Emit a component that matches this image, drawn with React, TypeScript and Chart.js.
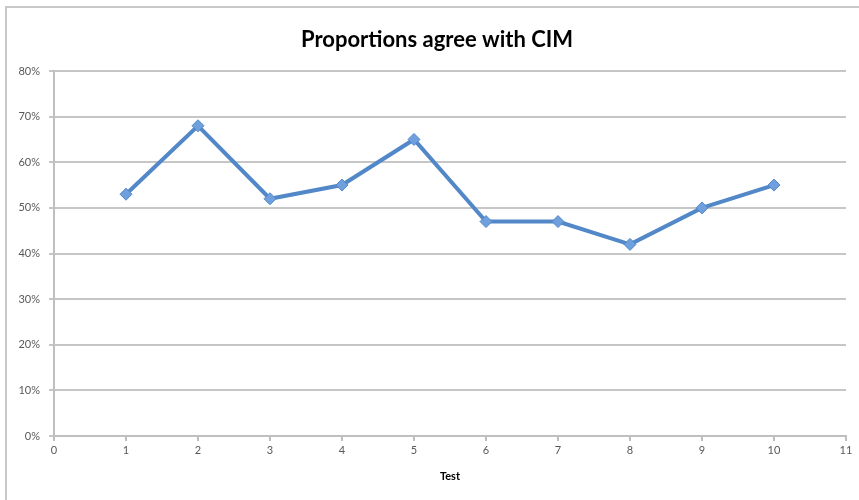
import React, { useEffect, useRef } from "react";
import { Chart, registerables } from "chart.js";

Chart.register(...registerables);

const tests = [1, 2, 3, 4, 5, 6, 7, 8, 9, 10];
const agreeProportion = [0.53, 0.68, 0.52, 0.55, 0.65, 0.47, 0.47, 0.42, 0.5, 0.55];
const chartTitle = "Proportions agree with CIM";
const xAxisTitle = "Test";

const FONT = "Lato, 'Open Sans', sans-serif";

const frameTitle = {
  id: "frameTitle",
  afterDraw(chart: any) {
    const ctx = chart.ctx;
    ctx.save();
    ctx.font = `bold 22px ${FONT}`;
    ctx.fillStyle = "#000";
    ctx.textAlign = "center";
    ctx.textBaseline = "middle";
    ctx.fillText(chartTitle, 437, 40);
    ctx.restore();
  },
};

export default function App() {
  const ref = useRef<HTMLCanvasElement>(null);
  useEffect(() => {
    if (!ref.current) return;
    const chart = new Chart(ref.current, {
      type: "line",
      data: {
        datasets: [
          {
            data: tests.map((t, i) => ({ x: t, y: agreeProportion[i] })),
            borderColor: "#5288c8",
            borderWidth: 4,
            pointStyle: "rectRot",
            pointRadius: 6,
            pointBackgroundColor: "#6f9fdc",
            pointBorderColor: "#5288c8",
            pointBorderWidth: 1,
            tension: 0,
          },
        ],
      },
      plugins: [frameTitle],
      options: {
        animation: false,
        responsive: false,
        layout: { padding: { left: 0, right: 13, top: 71, bottom: 17 } },
        plugins: {
          legend: { display: false },
          tooltip: { enabled: false },
          title: { display: false },
        },
        scales: {
          x: {
            type: "linear",
            min: 0,
            max: 11,
            ticks: {
              stepSize: 1,
              color: "#595959",
              font: { family: FONT, size: 11 },
              padding: 3,
              maxRotation: 0,
            },
            grid: {
              drawOnChartArea: false,
              drawTicks: true,
              tickLength: 5,
              color: "#bfbfbf",
              lineWidth: 2,
            },
            border: { display: true, color: "#bfbfbf", width: 2 },
            title: {
              display: true,
              text: xAxisTitle,
              color: "#000",
              font: { family: FONT, size: 11, weight: "bold" },
              padding: { top: 0, bottom: 0 },
            },
            afterFit: (s: any) => {
              s.height = 47;
            },
          },
          y: {
            min: 0,
            max: 0.8,
            ticks: {
              stepSize: 0.1,
              color: "#595959",
              font: { family: FONT, size: 11 },
              padding: 9,
              callback: (v: any) => Math.round(Number(v) * 100) + "%",
            },
            grid: {
              drawTicks: true,
              tickLength: 5,
              color: "#c6c6c6",
              lineWidth: 2,
            },
            border: { display: true, color: "#bfbfbf", width: 2 },
            afterFit: (s: any) => {
              s.width = 54;
            },
          },
        },
      },
    });
    return () => chart.destroy();
  }, []);
  return (
    <div style={{ position: "fixed", left: 0, top: 0, width: 859, height: 500, background: "#fff", overflow: "hidden" }}>
      <div
        style={{
          position: "absolute",
          left: 5,
          top: 6,
          width: 900,
          height: 520,
          borderLeft: "2px solid #c8c8c8",
          borderTop: "2px solid #c8c8c8",
          boxSizing: "border-box",
        }}
      />
      <canvas ref={ref} width={859} height={500} style={{ position: "absolute", left: 0, top: 0 }} />
    </div>
  );
}
